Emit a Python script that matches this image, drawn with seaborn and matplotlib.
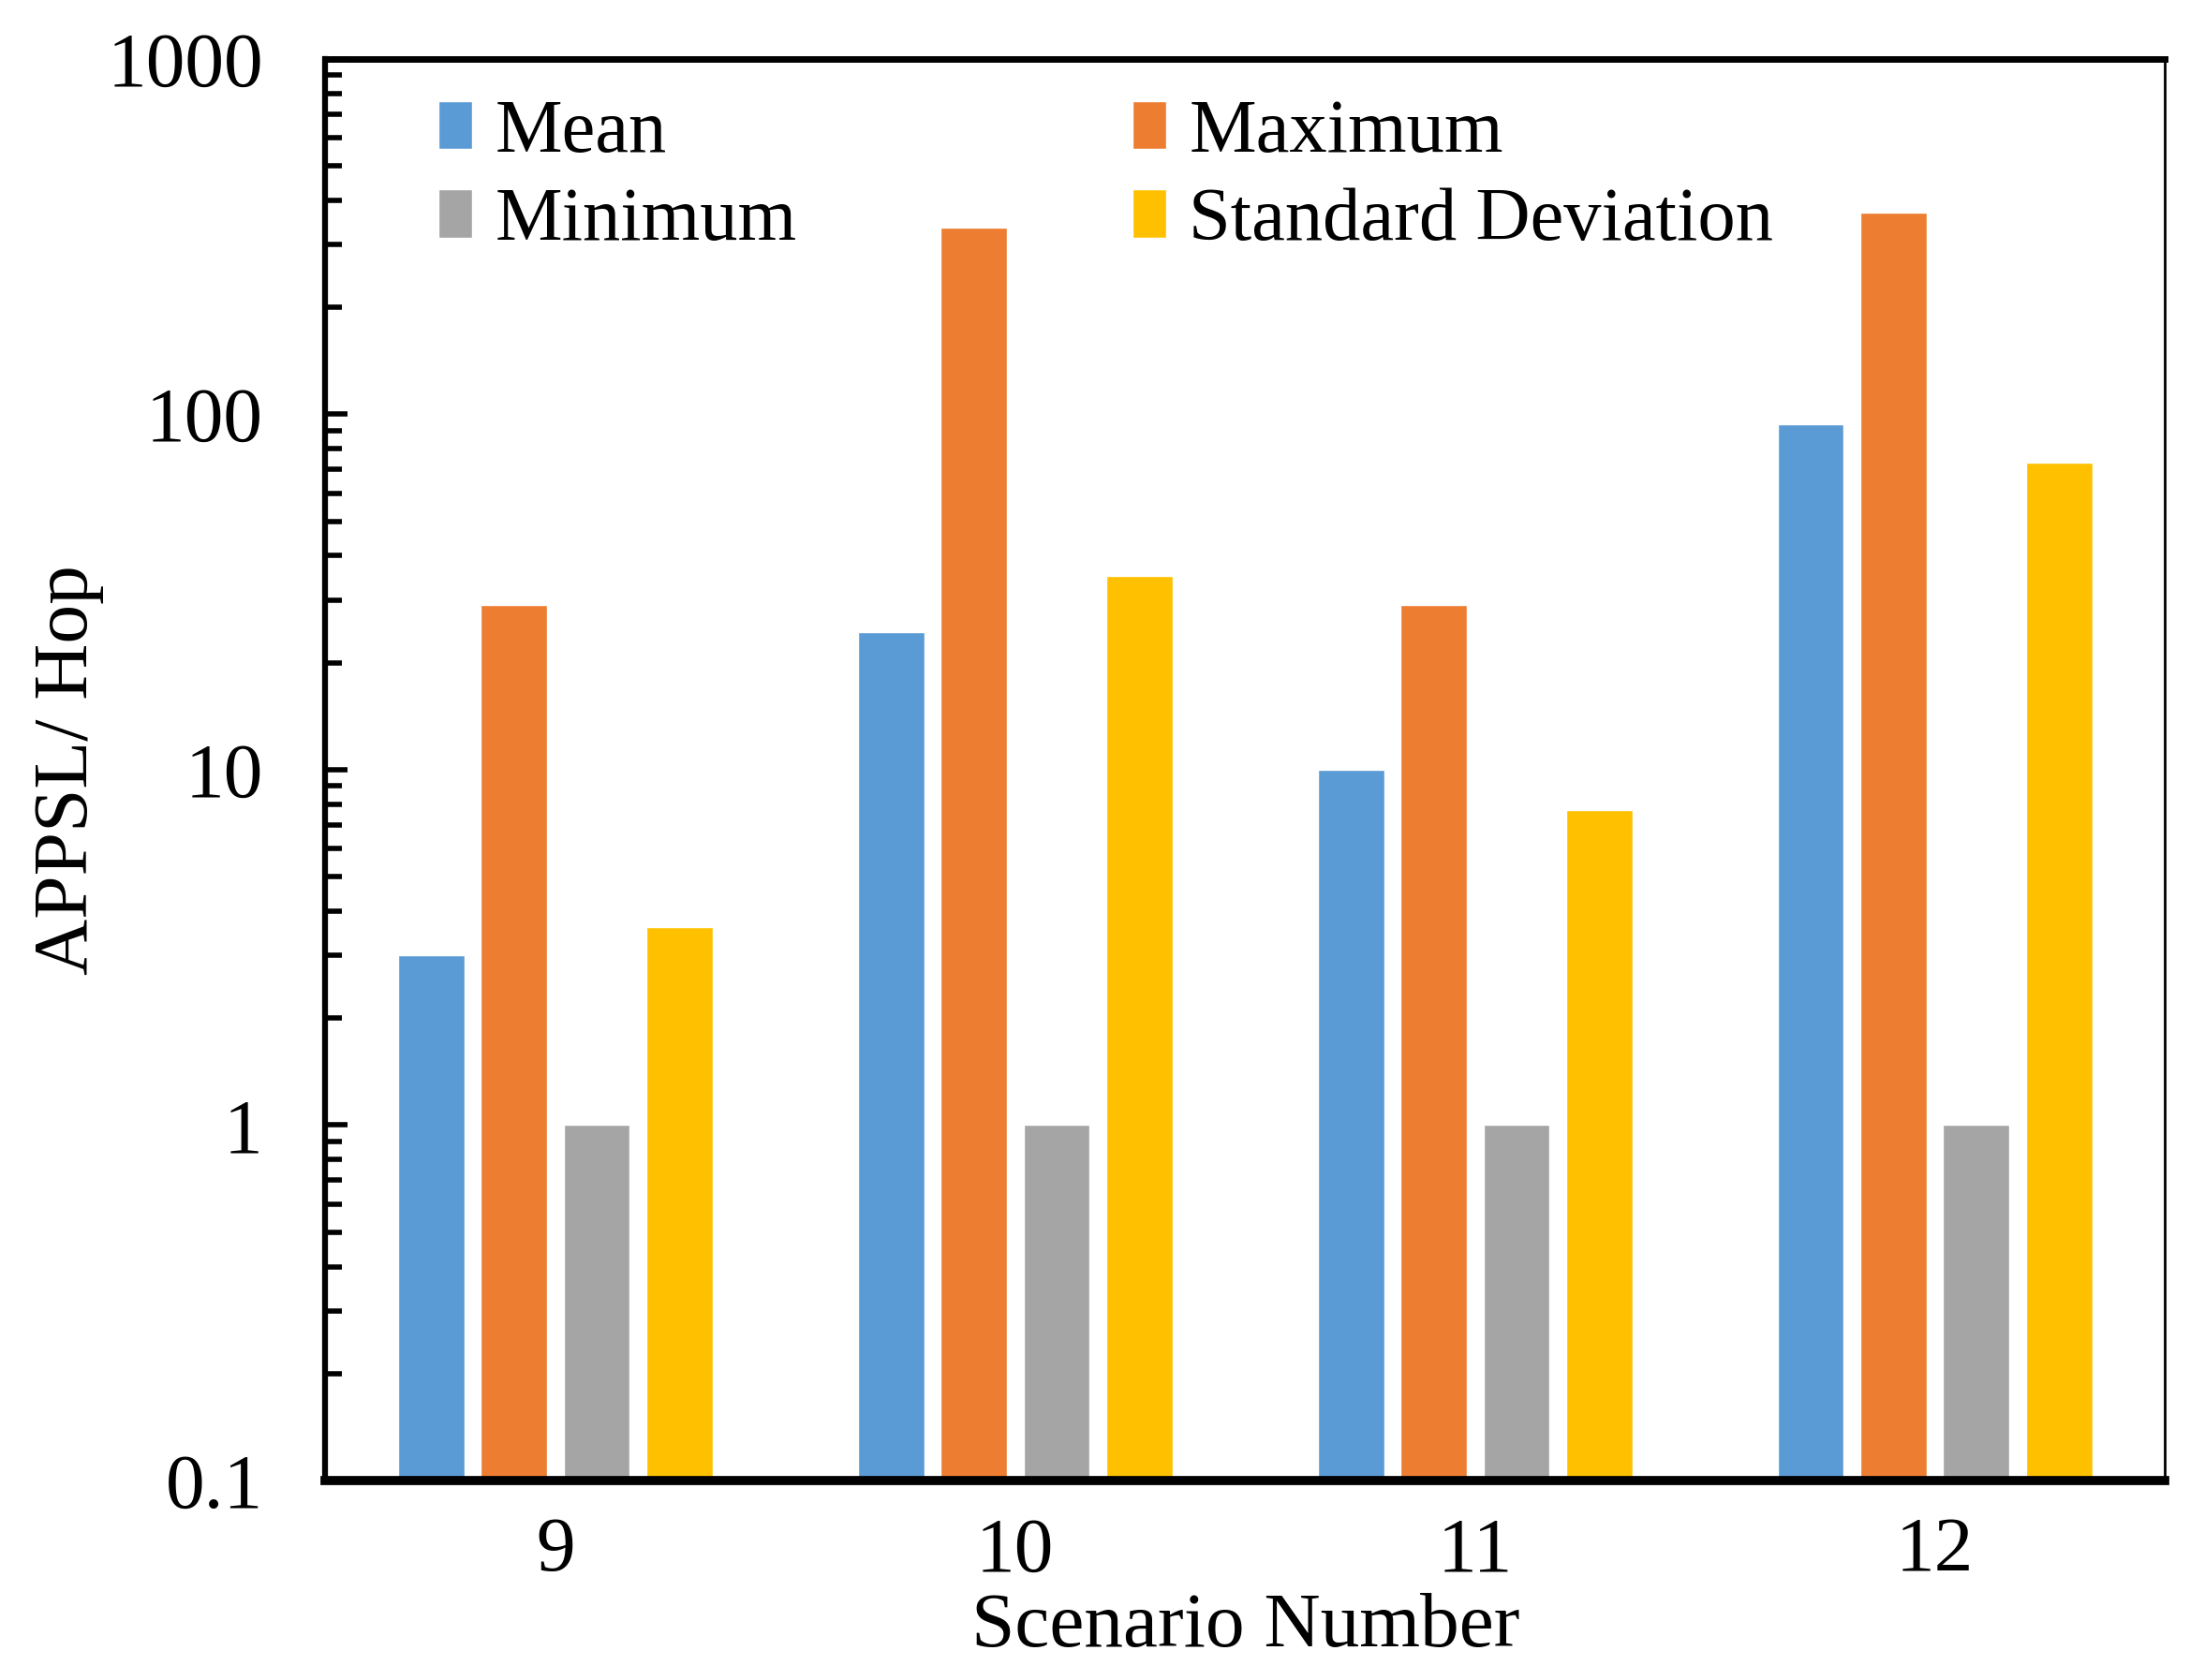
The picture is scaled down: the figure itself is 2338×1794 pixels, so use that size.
import numpy as np
import pandas as pd
import matplotlib
matplotlib.use("Agg")
import matplotlib.pyplot as plt
import seaborn as sns

# Data
scenarios = ["9", "10", "11", "12"]
mean_vals = [3.0, 24.4, 10.0, 94.0]
max_vals = [29.0, 336.0, 29.0, 370.0]
min_vals = [1.0, 1.0, 1.0, 1.0]
std_vals = [3.6, 35.0, 7.7, 73.0]
series = ["Mean", "Maximum", "Minimum", "Standard Deviation"]
colors = ["#5B9BD5", "#ED7D31", "#A5A5A5", "#FFC000"]

rows = []
for name, vals in zip(series, [mean_vals, max_vals, min_vals, std_vals]):
    for sc, v in zip(scenarios, vals):
        rows.append({"Scenario": sc, "Stat": name, "Value": v})
df = pd.DataFrame(rows)

sns.set_style("white")
plt.rcParams['font.family'] = ['Liberation Serif', 'DejaVu Serif']
plt.rcParams['text.color'] = 'black'
plt.rcParams['axes.labelcolor'] = 'black'
plt.rcParams['xtick.color'] = 'black'
plt.rcParams['ytick.color'] = 'black'

fig = plt.figure(figsize=(23.38, 17.94), dpi=100)
ax = fig.add_axes([0.1486, 0.1187, 0.8399, 0.8463])
ax.set_yscale("log")

sns.barplot(data=df, x="Scenario", y="Value", hue="Stat", hue_order=series,
            order=scenarios, palette=colors, width=0.72, gap=0.2,
            saturation=1, ax=ax, legend=True)

ax.set_ylim(0.1, 1000)
ax.set_xlim(-0.5, 3.5)
ax.set_yticks([0.1, 1, 10, 100, 1000])
ax.set_yticklabels(["0.1", "1", "10", "100", "1000"])

fs = 60
ax.tick_params(axis="y", which="major", direction="in", length=17, width=4,
               labelsize=fs, pad=48, left=True, right=False)
ax.tick_params(axis="y", which="minor", direction="in", length=13, width=4,
               left=True, right=False)
ax.tick_params(axis="x", length=0, labelsize=fs, pad=28)

ax.set_xlabel("Scenario Number", fontsize=fs, labelpad=4)
ax.set_ylabel("APPSL/ Hop", fontsize=fs, labelpad=2)

for side, lw in [("left", 4.5), ("top", 5.0), ("bottom", 7.0), ("right", 2.0)]:
    ax.spines[side].set_visible(True)
    ax.spines[side].set_color("black")
    ax.spines[side].set_linewidth(lw)

# legend: row-wise order Mean, Maximum / Minimum, Standard Deviation
handles, labels = ax.get_legend_handles_labels()
hmap = dict(zip(labels, handles))
leg_order = ["Mean", "Minimum", "Maximum", "Standard Deviation"]
ax.legend([hmap[k] for k in leg_order], leg_order, ncol=2, frameon=False,
          fontsize=58, loc="upper left", bbox_to_anchor=(0.045, 0.993),
          handlelength=0.45, handleheight=0.6, handletextpad=0.3,
          columnspacing=4.45, labelspacing=0.27, borderaxespad=0)

fig.savefig("out.png", dpi=100)
